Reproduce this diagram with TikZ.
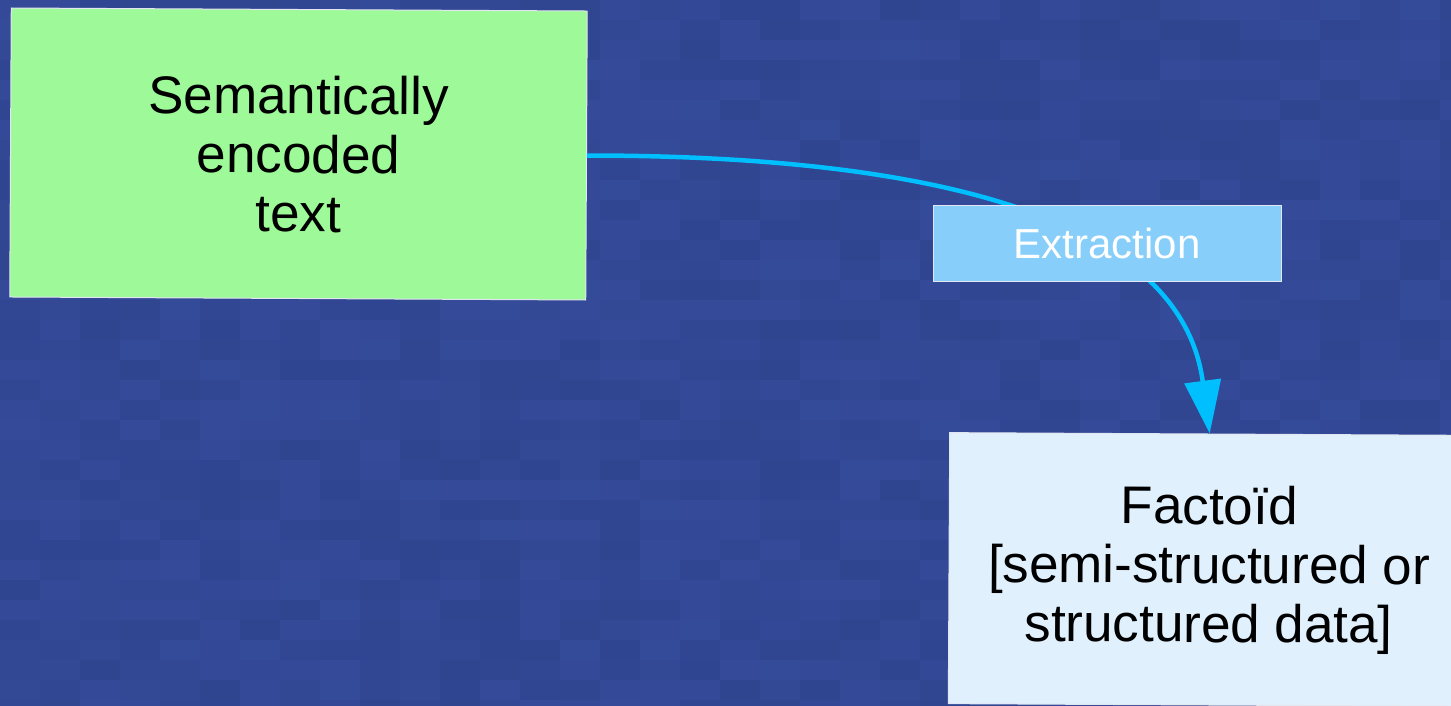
\documentclass[tikz,border=0pt]{standalone}
\usepackage{fontspec}
\setmainfont{Liberation Sans}
\usetikzlibrary{arrows.meta}
\definecolor{bgbase}{RGB}{51,72,150}
\definecolor{bgA}{RGB}{46,67,140}
\definecolor{bgB}{RGB}{55,78,157}
\definecolor{greenbox}{RGB}{158,250,152}
\definecolor{labelbox}{RGB}{135,206,250}
\definecolor{factbox}{RGB}{224,240,253}
\definecolor{arrowc}{RGB}{0,191,255}
\definecolor{edgec}{RGB}{225,230,240}
\tikzset{
  boxstyle/.style={draw=edgec, line width=1pt, inner sep=0pt, align=center},
  bigtext/.style={font=\fontsize{53}{59}\selectfont},
  conn/.style={draw=arrowc, line width=4.5pt, -{Triangle[length=53pt,width=36pt]}}
}
\begin{document}
\begin{tikzpicture}[x=1pt,y=-1pt]
\useasboundingbox (0,0) rectangle (1451,706);
\clip (0,0) rectangle (1451,706);
\fill[bgbase] (0,0) rectangle (1451,706);
\pgfmathsetseed{7}
\foreach \i in {0,...,36}{
  \foreach \j in {0,...,35}{
    \pgfmathrandominteger{\r}{0}{100}
    \fill[bgA!\r!bgB, opacity=0.6] (\i*40,\j*20) rectangle ++(40,20);
  }
}
\node[boxstyle, fill=greenbox, minimum width=576pt, minimum height=289pt, rotate=-0.3, bigtext] (sem) at (298.5,154) {Semantically\\encoded\\text};
\node[boxstyle, fill=factbox, minimum width=520pt, minimum height=271pt, rotate=-0.3, bigtext] (fact) at (1209,569.5) {Facto\"{\i}d\\{}[semi-structured or\\structured data]};
\draw[conn] (sem.east) .. controls +(300,0) and +(-31,-231) .. (fact.north);
\node[boxstyle, fill=labelbox, text=white, minimum width=348pt, minimum height=76pt, font=\fontsize{42}{50}\selectfont] (ext) at (1107,243) {Extraction};
\end{tikzpicture}
\end{document}
